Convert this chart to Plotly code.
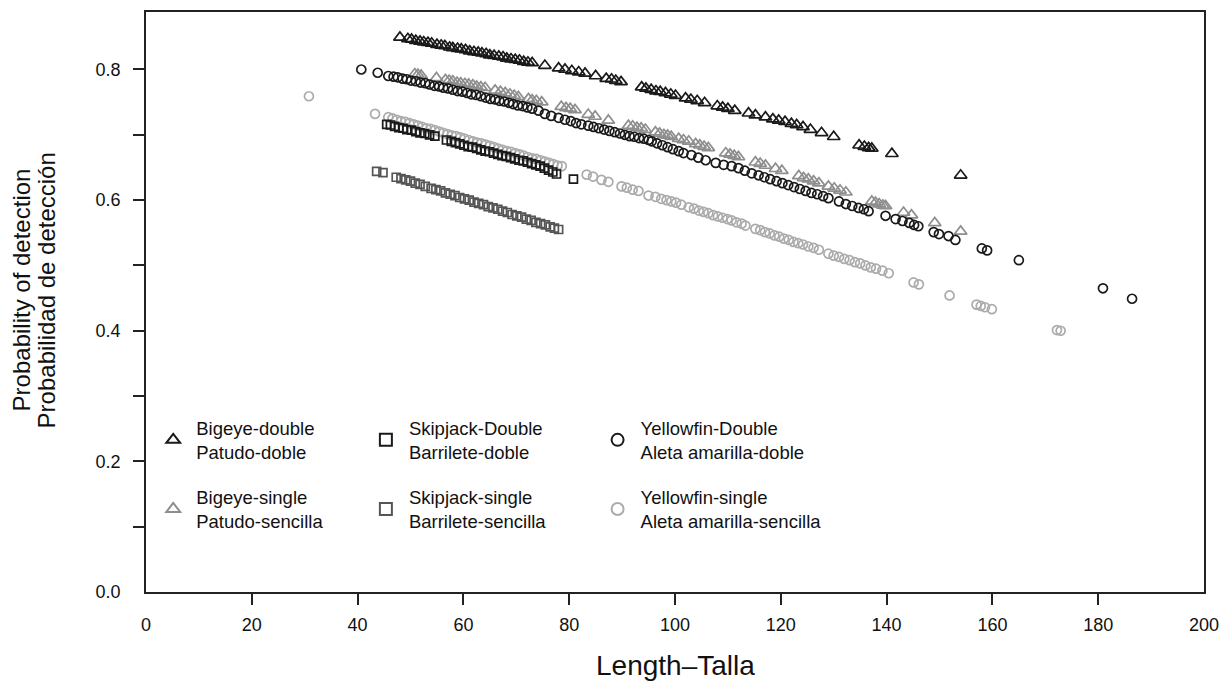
import plotly.graph_objects as go

# ---------------- data ----------------
bigeye_double_x = [48.0, 49.5, 50.2, 51.0, 51.8, 52.5, 53.3, 54.0, 55.0, 55.8, 56.5, 57.4, 58.0, 58.9, 59.6,
                   60.4, 61.2, 62.0, 62.8, 63.5, 64.3, 65.0, 65.8, 66.7, 67.5, 68.2, 69.0, 69.8, 70.6, 71.4,
                   72.2, 73.0, 75.4, 78.0, 79.2, 80.5, 81.8, 83.0, 85.0, 87.0, 88.0, 88.8, 89.8, 93.7, 94.5,
                   95.5, 96.4, 97.2, 98.2, 99.2, 100.1, 102.0, 103.0, 104.2, 105.6, 108.0, 109.0, 110.0, 111.3,
                   113.9, 115.2, 117.1, 118.5, 119.6, 120.8, 122.0, 123.0, 124.2, 125.6, 127.7, 130.0, 134.8,
                   135.8, 136.6, 137.2, 141.0, 154.0]
bigeye_double_y = [0.849, 0.847, 0.846, 0.844, 0.843, 0.842, 0.841, 0.840, 0.838, 0.837, 0.836, 0.834, 0.833,
                   0.832, 0.831, 0.830, 0.828, 0.827, 0.826, 0.825, 0.824, 0.822, 0.821, 0.820, 0.819, 0.817,
                   0.816, 0.815, 0.814, 0.812, 0.811, 0.810, 0.806, 0.802, 0.800, 0.798, 0.796, 0.794, 0.790,
                   0.786, 0.785, 0.783, 0.781, 0.773, 0.771, 0.769, 0.767, 0.766, 0.764, 0.762, 0.760, 0.756,
                   0.754, 0.752, 0.749, 0.744, 0.742, 0.740, 0.737, 0.733, 0.730, 0.727, 0.724, 0.722, 0.720,
                   0.717, 0.715, 0.712, 0.708, 0.703, 0.697, 0.684, 0.682, 0.680, 0.679, 0.671, 0.638]

bigeye_single_x = [50.8, 51.4, 52.0, 54.9, 56.6, 57.3, 58.0, 58.8, 59.5, 60.3, 61.0, 61.8, 62.5, 63.3, 64.1,
                   66.0, 67.0, 67.9, 68.8, 69.6, 70.4, 72.3, 73.0, 73.8, 74.8, 78.5, 79.4, 80.2, 81.1, 83.6,
                   84.9, 87.4, 91.2, 92.0, 92.8, 93.6, 94.4, 96.3, 97.1, 97.9, 98.6, 99.3, 100.7, 101.6, 102.6,
                   103.9, 104.7, 105.5, 106.3, 109.6, 110.4, 111.2, 112.0, 115.2, 116.1, 117.1, 119.0, 120.2,
                   123.4, 124.3, 125.2, 126.2, 127.2, 129.0, 130.1, 131.2, 132.3, 137.2, 137.9, 138.6, 139.3,
                   139.8, 143.2, 144.7, 149.1, 154.0]
bigeye_single_y = [0.793, 0.792, 0.791, 0.787, 0.784, 0.783, 0.782, 0.780, 0.779, 0.778, 0.777, 0.776, 0.774,
                   0.773, 0.772, 0.768, 0.766, 0.764, 0.762, 0.760, 0.758, 0.755, 0.753, 0.752, 0.750, 0.743,
                   0.741, 0.740, 0.738, 0.731, 0.728, 0.722, 0.714, 0.713, 0.711, 0.710, 0.708, 0.704, 0.702,
                   0.700, 0.699, 0.697, 0.694, 0.692, 0.690, 0.686, 0.684, 0.682, 0.680, 0.672, 0.670, 0.668,
                   0.666, 0.658, 0.656, 0.653, 0.648, 0.645, 0.637, 0.634, 0.632, 0.629, 0.626, 0.621, 0.618,
                   0.615, 0.612, 0.598, 0.596, 0.594, 0.592, 0.591, 0.581, 0.577, 0.565, 0.552]

skipjack_double_x = [45.5, 46.2, 47.0, 47.8, 48.6, 49.3, 50.2, 51.0, 51.8, 52.7, 53.6, 54.6, 56.8, 57.7, 58.5,
                     59.3, 60.1, 60.9, 61.7, 62.5, 63.3, 64.1, 64.9, 65.7, 66.5, 67.3, 68.1, 68.9, 69.7, 70.5,
                     71.3, 72.1, 72.9, 73.7, 74.5, 75.3, 76.1, 76.9, 77.6, 80.8]
skipjack_double_y = [0.716, 0.715, 0.713, 0.711, 0.710, 0.708, 0.707, 0.705, 0.703, 0.702, 0.700, 0.698, 0.692,
                     0.690, 0.688, 0.686, 0.684, 0.682, 0.681, 0.679, 0.677, 0.675, 0.674, 0.672, 0.670, 0.668,
                     0.667, 0.665, 0.663, 0.661, 0.660, 0.658, 0.656, 0.654, 0.652, 0.649, 0.646, 0.643, 0.640,
                     0.632]

skipjack_single_x = [43.6, 44.8, 47.3, 48.2, 49.1, 50.0, 50.9, 51.8, 52.8, 53.9, 54.8, 55.7, 56.6, 57.5, 58.4,
                     59.3, 60.2, 61.1, 62.0, 62.9, 63.8, 64.7, 65.6, 66.5, 67.4, 68.3, 69.2, 70.1, 71.0, 71.9,
                     72.8, 73.7, 74.6, 75.5, 76.4, 77.2, 78.0]
skipjack_single_y = [0.644, 0.642, 0.635, 0.633, 0.631, 0.629, 0.626, 0.624, 0.621, 0.618, 0.616, 0.614, 0.611,
                     0.609, 0.607, 0.604, 0.602, 0.600, 0.597, 0.595, 0.593, 0.590, 0.588, 0.586, 0.583, 0.581,
                     0.578, 0.576, 0.574, 0.571, 0.569, 0.566, 0.564, 0.562, 0.559, 0.557, 0.555]

yellowfin_double_x = [40.7, 43.8, 45.8, 46.8, 47.6, 48.5, 49.3, 50.1, 51.0, 51.9, 52.8, 53.6, 54.5, 55.4, 56.2,
                      57.1, 58.0, 58.9, 59.8, 60.7, 61.5, 62.4, 63.3, 64.2, 65.1, 66.0, 66.8, 67.7, 68.6, 69.4,
                      70.3, 71.2, 72.1, 73.0, 74.2, 75.4, 76.6, 78.0, 79.2, 80.3, 81.3, 82.3, 83.6, 84.6, 85.6,
                      86.6, 87.6, 88.6, 89.6, 90.5, 91.4, 92.3, 93.2, 94.1, 95.0, 95.6, 96.6, 97.6, 98.6, 99.6,
                      100.7, 101.6, 103.1, 104.4, 105.8, 107.7, 109.2, 110.7, 112.0, 113.2, 114.5, 115.8, 116.9,
                      118.0, 119.2, 120.3, 121.4, 122.5, 123.6, 124.7, 125.8, 126.9, 128.0, 129.0, 131.0, 132.3,
                      133.5, 134.7, 135.7, 136.6, 139.8, 141.7, 143.0, 144.3, 145.2, 146.0, 148.9, 149.9, 151.7,
                      153.0, 158.0, 159.0, 165.0, 180.9, 186.4]
yellowfin_double_y = [0.800, 0.795, 0.790, 0.789, 0.788, 0.786, 0.785, 0.783, 0.782, 0.780, 0.779, 0.777, 0.775,
                      0.774, 0.772, 0.771, 0.769, 0.767, 0.766, 0.764, 0.762, 0.761, 0.759, 0.757, 0.755, 0.754,
                      0.752, 0.751, 0.749, 0.747, 0.745, 0.744, 0.742, 0.740, 0.737, 0.732, 0.729, 0.726, 0.723,
                      0.721, 0.718, 0.716, 0.714, 0.712, 0.710, 0.708, 0.706, 0.704, 0.702, 0.700, 0.698, 0.697,
                      0.695, 0.694, 0.692, 0.690, 0.687, 0.684, 0.681, 0.678, 0.675, 0.672, 0.669, 0.665, 0.661,
                      0.657, 0.654, 0.652, 0.649, 0.645, 0.641, 0.638, 0.635, 0.632, 0.629, 0.626, 0.623, 0.620,
                      0.617, 0.614, 0.611, 0.609, 0.606, 0.603, 0.598, 0.594, 0.591, 0.588, 0.586, 0.583, 0.576,
                      0.571, 0.568, 0.565, 0.562, 0.560, 0.551, 0.548, 0.545, 0.539, 0.526, 0.523, 0.508, 0.465,
                      0.449]

yellowfin_single_x = [30.8, 43.3, 45.8, 46.6, 47.4, 48.2, 49.0, 49.8, 50.6, 51.4, 52.2, 53.0, 53.8, 54.6, 55.4,
                      56.2, 57.0, 57.8, 58.6, 59.4, 60.2, 61.0, 61.8, 62.6, 63.4, 64.2, 65.0, 65.8, 66.6, 67.4,
                      68.2, 69.0, 69.8, 70.6, 71.4, 72.2, 73.0, 73.8, 74.6, 75.4, 76.2, 77.0, 77.8, 78.6, 83.3,
                      84.5, 86.1, 87.4, 89.9, 90.9, 92.0, 93.1, 95.0, 96.3, 97.4, 98.4, 99.3, 100.2, 101.2, 102.6,
                      103.6, 104.5, 105.4, 106.3, 107.2, 108.1, 109.0, 109.9, 110.7, 111.6, 112.6, 113.3, 115.2,
                      116.1, 117.0, 117.9, 118.8, 119.7, 120.6, 121.5, 122.4, 123.3, 124.2, 125.2, 126.2, 127.2,
                      129.0, 130.0, 131.0, 132.0, 133.0, 134.0, 135.0, 136.0, 137.0, 138.0, 139.2, 140.4, 145.1,
                      146.1, 151.9, 157.0, 157.8, 158.6, 159.9, 172.2, 172.9]
yellowfin_single_y = [0.759, 0.732, 0.727, 0.725, 0.723, 0.721, 0.720, 0.718, 0.716, 0.714, 0.712, 0.710, 0.709,
                      0.707, 0.705, 0.703, 0.701, 0.699, 0.698, 0.696, 0.694, 0.692, 0.690, 0.688, 0.687, 0.685,
                      0.683, 0.681, 0.679, 0.677, 0.675, 0.674, 0.672, 0.670, 0.668, 0.666, 0.664, 0.663, 0.661,
                      0.659, 0.657, 0.655, 0.653, 0.652, 0.639, 0.636, 0.631, 0.628, 0.621, 0.619, 0.616, 0.614,
                      0.607, 0.605, 0.602, 0.600, 0.598, 0.596, 0.593, 0.589, 0.587, 0.584, 0.582, 0.580, 0.577,
                      0.575, 0.573, 0.571, 0.569, 0.566, 0.564, 0.561, 0.556, 0.554, 0.551, 0.549, 0.546, 0.544,
                      0.541, 0.539, 0.536, 0.534, 0.532, 0.529, 0.527, 0.524, 0.518, 0.515, 0.513, 0.510, 0.508,
                      0.505, 0.503, 0.500, 0.497, 0.495, 0.492, 0.488, 0.474, 0.471, 0.454, 0.440, 0.438, 0.436,
                      0.433, 0.401, 0.400]

x_tick_vals = [0, 20, 40, 60, 80, 100, 120, 140, 160, 180, 200]
x_tick_marks = [20, 40, 60, 80, 100, 120, 140, 160, 180]
y_tick_vals = [0.0, 0.2, 0.4, 0.6, 0.8]
y_tick_text = ["0.0", "0.2", "0.4", "0.6", "0.8"]
y_tick_marks = [0.1, 0.2, 0.3, 0.4, 0.5, 0.6, 0.7, 0.8]

FONT = "Liberation Sans, Arial, Helvetica, sans-serif"
BLACK = "#1a1a1a"

series = [
    # name, x, y, symbol, color, size, legend, rank
    ("Bigeye-single<br>Patudo-sencilla", bigeye_single_x, bigeye_single_y, "triangle-up-open", "#8e8e8e", 11, "legend", 2),
    ("Yellowfin-single<br>Aleta amarilla-sencilla", yellowfin_single_x, yellowfin_single_y, "circle-open", "#ababab", 9, "legend3", 2),
    ("Skipjack-single<br>Barrilete-sencilla", skipjack_single_x, skipjack_single_y, "square-open", "#555555", 8, "legend2", 2),
    ("Skipjack-Double<br>Barrilete-doble", skipjack_double_x, skipjack_double_y, "square-open", BLACK, 8, "legend2", 1),
    ("Yellowfin-Double<br>Aleta amarilla-doble", yellowfin_double_x, yellowfin_double_y, "circle-open", BLACK, 9, "legend3", 1),
    ("Bigeye-double<br>Patudo-doble", bigeye_double_x, bigeye_double_y, "triangle-up-open", BLACK, 11, "legend", 1),
]

fig = go.Figure()
for i, (name, xs, ys, sym, col, size, leg, rank) in enumerate(series):
    fig.add_trace(go.Scatter(
        x=xs, y=ys, mode="markers", name=name,
        marker=dict(symbol=sym, size=size, color=col, line=dict(color=col, width=1.7)),
        legend=leg, legendrank=rank, legendgroup=f"g{i}",
        hoverinfo="skip",
    ))

legend_common = dict(
    font=dict(family=FONT, size=18.5, color="#111"),
    bgcolor="rgba(0,0,0,0)", borderwidth=0,
    yanchor="top", xanchor="left", y=0.315,
    tracegroupgap=18, itemsizing="constant", valign="middle", itemwidth=36,
)

fig.update_layout(
    width=1229, height=681,
    margin=dict(l=146, r=25, t=10, b=89),
    paper_bgcolor="white", plot_bgcolor="white",
    font=dict(family=FONT, size=18, color="#111"),
    showlegend=True,
    legend=dict(x=0.004, **legend_common),
    legend2=dict(x=0.205, **legend_common),
    legend3=dict(x=0.424, **legend_common),
    xaxis=dict(
        range=[0, 200], tickmode="array", tickvals=x_tick_vals,
        ticks="outside", ticklen=0, ticklabelstandoff=16,
        showline=True, mirror=True, linecolor="#222", linewidth=1.6,
        showgrid=False, zeroline=False,
        tickfont=dict(family=FONT, size=18, color="#111"),
        minor=dict(tickmode="array", tickvals=x_tick_marks, ticks="outside",
                   ticklen=11, tickwidth=1.5, tickcolor="#222", showgrid=False),
    ),
    yaxis=dict(
        range=[0, 0.888], tickmode="array", tickvals=y_tick_vals, ticktext=y_tick_text,
        ticks="outside", ticklen=0, ticklabelstandoff=20,
        showline=True, mirror=True, linecolor="#222", linewidth=1.6,
        showgrid=False, zeroline=False,
        tickfont=dict(family=FONT, size=18, color="#111"),
        minor=dict(tickmode="array", tickvals=y_tick_marks, ticks="outside",
                   ticklen=11, tickwidth=1.5, tickcolor="#222", showgrid=False),
    ),
    annotations=[
        dict(text="Length\u2013Talla", xref="paper", yref="paper", x=0.5, y=0,
             yshift=-73, xanchor="center", yanchor="middle", showarrow=False,
             font=dict(family=FONT, size=28, color="#111")),
        dict(text="Probability of detection", xref="paper", yref="paper", x=0, y=0.52,
             xshift=-125, xanchor="center", yanchor="middle", textangle=-90, showarrow=False,
             font=dict(family=FONT, size=24, color="#111")),
        dict(text="Probabilidad de detección", xref="paper", yref="paper", x=0, y=0.52,
             xshift=-100, xanchor="center", yanchor="middle", textangle=-90, showarrow=False,
             font=dict(family=FONT, size=24, color="#111")),
    ],
)

fig.write_html("out.html")
